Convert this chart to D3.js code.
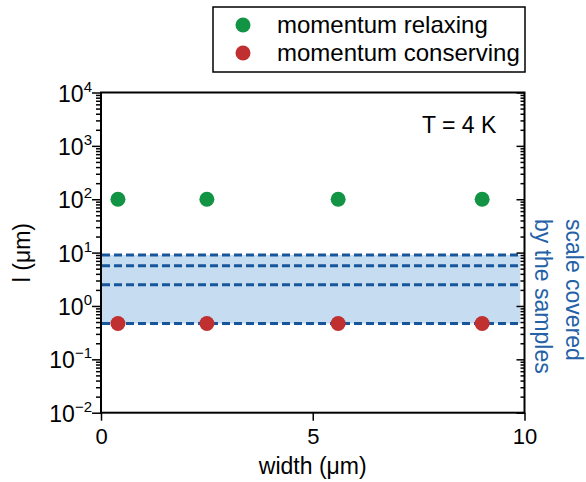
<!DOCTYPE html>
<html>
<head>
<meta charset="utf-8">
<script src="https://cdn.jsdelivr.net/npm/d3@7"></script>
<style>
  body { margin: 0; background: #fff; }
  text { font-family: "Liberation Sans", Arial, sans-serif; fill: #000; }
</style>
</head>
<body>
<script>
// sample widths (um) and mean free paths (um)
var widths = [0.4, 2.5, 5.6, 9.0];
var relaxing = [100, 100, 100, 100];
var conserving = [0.47, 0.47, 0.47, 0.47];
// length scales covered by the samples (dashed lines)
var sampleScales = [9.0, 5.7, 2.5, 0.47];
var bandWidth = [0, 9.9];
var xTicks = [0, 5, 10];
var yExponents = [-2, -1, 0, 1, 2, 3, 4];
var legendNames = ["momentum relaxing", "momentum conserving"];
var colors = ["#139444", "#c03030"];

var W = 586, H = 482;
var pLeft = 101, pRight = 524.5, pTop = 92.5, pBottom = 412.7;

var svg = d3.select("body").append("svg")
    .attr("width", W)
    .attr("height", H);

var x = d3.scaleLinear().domain([0, 10]).range([pLeft, pRight]);
var y = d3.scaleLog().domain([1e-2, 1e4]).range([pBottom, pTop]);

var majors = yExponents.map(e => Math.pow(10, e));
var minors = [];
yExponents.slice(0, -1).forEach(function(e) {
    for (var k = 2; k < 10; k++) minors.push(k * Math.pow(10, e));
});

// blue band of sample scales
svg.append("rect")
    .attr("x", x(bandWidth[0]))
    .attr("y", y(d3.max(sampleScales)))
    .attr("width", x(bandWidth[1]) - x(bandWidth[0]))
    .attr("height", y(d3.min(sampleScales)) - y(d3.max(sampleScales)))
    .attr("fill", "#c6dcf0");

svg.selectAll(".dash").data(sampleScales).enter().append("line")
    .attr("x1", x(bandWidth[0]) + 1)
    .attr("x2", x(bandWidth[1]))
    .attr("y1", d => y(d))
    .attr("y2", d => y(d))
    .attr("stroke", "#17569b")
    .attr("stroke-width", 3)
    .attr("stroke-dasharray", "8,4");

// axes: left (ticks out), right (ticks in), bottom
function noText(g) { g.selectAll("text").remove(); g.select(".domain").remove(); }

svg.append("g").attr("transform", "translate(" + pLeft + ",0)")
    .call(d3.axisLeft(y).tickValues(majors).tickSize(9).tickFormat(""))
    .call(noText);
svg.append("g").attr("transform", "translate(" + pLeft + ",0)")
    .call(d3.axisLeft(y).tickValues(minors).tickSize(5).tickFormat(""))
    .call(noText);
svg.append("g").attr("transform", "translate(" + pRight + ",0)")
    .call(d3.axisLeft(y).tickValues(majors).tickSize(8).tickFormat(""))
    .call(noText);
svg.append("g").attr("transform", "translate(" + pRight + ",0)")
    .call(d3.axisLeft(y).tickValues(minors).tickSize(4).tickFormat(""))
    .call(noText);
svg.selectAll(".tick line").attr("stroke-width", 1.5);

var xAxis = svg.append("g").attr("transform", "translate(0," + pBottom + ")")
    .call(d3.axisBottom(x).tickValues(xTicks).tickSize(8).tickPadding(8));
xAxis.select(".domain").remove();
xAxis.selectAll(".tick line").attr("stroke-width", 1.5);
xAxis.selectAll("text")
    .style("font-size", "22px")
    .style("font-family", "Liberation Sans, Arial, sans-serif")
    .attr("fill", "#000");

// y tick labels with superscripts
var yl = svg.selectAll(".ylab").data(yExponents).enter().append("text")
    .attr("x", 92)
    .attr("y", d => y(Math.pow(10, d)) + 9)
    .attr("text-anchor", "end")
    .style("font-size", "23px");
yl.append("tspan").text("10");
yl.append("tspan")
    .attr("dy", -10)
    .style("font-size", "15px")
    .text(d => d < 0 ? "\u2212" + (-d) : d);

// frame
svg.append("rect")
    .attr("x", pLeft).attr("y", pTop)
    .attr("width", pRight - pLeft).attr("height", pBottom - pTop)
    .attr("fill", "none")
    .attr("stroke", "#000")
    .attr("stroke-width", 2);

// points
var series = [relaxing, conserving];
series.forEach(function(vals, si) {
    svg.selectAll(".pt" + si).data(vals).enter().append("circle")
        .attr("cx", (d, i) => x(widths[i]))
        .attr("cy", d => y(d))
        .attr("r", 7.5)
        .attr("fill", colors[si]);
});

// axis titles
svg.append("text")
    .attr("x", (pLeft + pRight) / 2)
    .attr("y", 474)
    .attr("text-anchor", "middle")
    .style("font-size", "23px")
    .text("width (\u03bcm)");

svg.append("text")
    .attr("transform", "translate(30," + ((pTop + pBottom) / 2) + ") rotate(-90)")
    .attr("text-anchor", "middle")
    .style("font-size", "23px")
    .text("l (\u03bcm)");

svg.append("text")
    .attr("x", 422)
    .attr("y", 133)
    .style("font-size", "23px")
    .text("T = 4 K");

// right side note
var note = svg.append("text")
    .attr("transform", "translate(566,219) rotate(90)")
    .style("font-size", "23px")
    .style("fill", "#2461a6");
note.append("tspan").attr("x", 0).attr("y", 0).text("scale covered");
note.append("tspan").attr("x", 0).attr("y", 31).text("by the samples");

// legend
svg.append("rect")
    .attr("x", 213).attr("y", 7)
    .attr("width", 312).attr("height", 65)
    .attr("fill", "#fff")
    .attr("stroke", "#000")
    .attr("stroke-width", 1.5);

legendNames.forEach(function(name, i) {
    svg.append("circle")
        .attr("cx", 243).attr("cy", 25 + i * 28)
        .attr("r", 7.5)
        .attr("fill", colors[i]);
    svg.append("text")
        .attr("x", 277).attr("y", 33 + i * 28)
        .style("font-size", "24px")
        .text(name);
});
</script>
</body>
</html>
